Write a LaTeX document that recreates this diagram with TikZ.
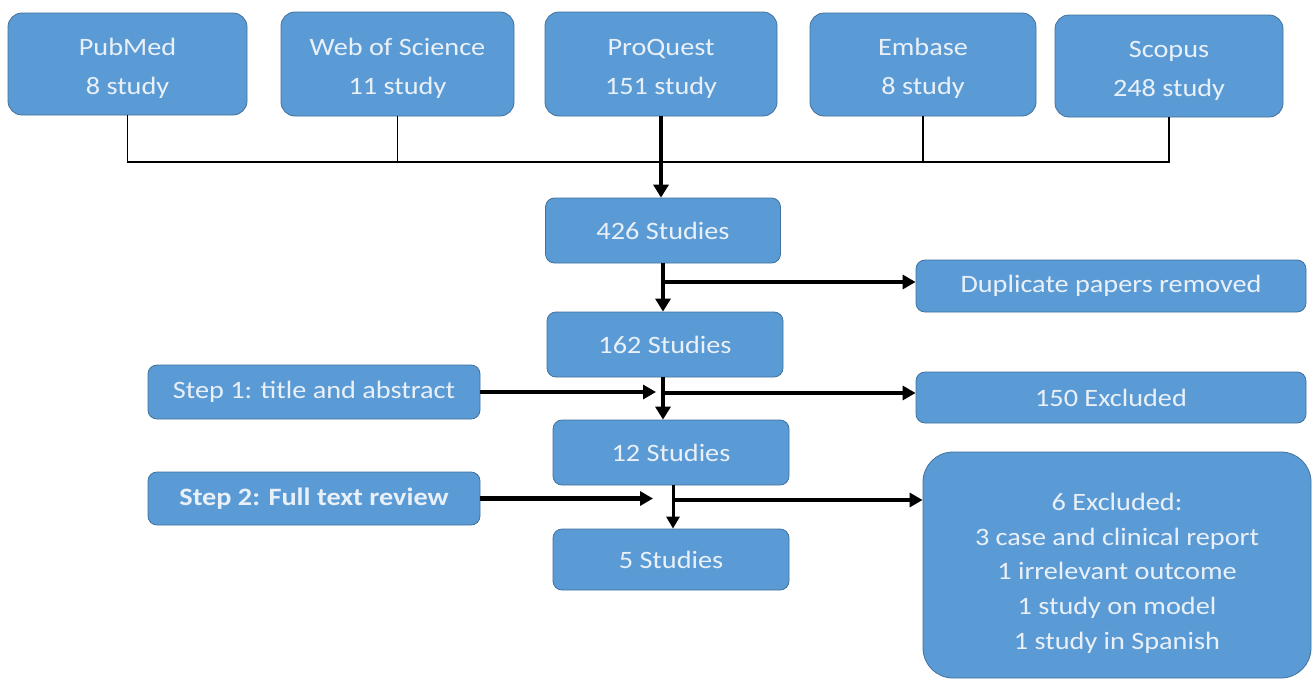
\documentclass[tikz,border=0pt]{standalone}
\usepackage{fontspec}
\setmainfont{Carlito}[FakeStretch=1.13]
\usetikzlibrary{arrows.meta}
\definecolor{boxblue}{HTML}{5B9BD5}
\definecolor{boxline}{HTML}{41719C}
\definecolor{boxtext}{HTML}{EAF0F8}
\newcommand{\shiftlines}[2]{\raisebox{#1}[\height][\depth]{\begin{tabular}{@{}c@{}}#2\end{tabular}}}
\begin{document}
\begin{tikzpicture}[x=1pt,y=-1pt,
  box/.style={draw=boxline, line width=0.8pt, fill=boxblue, text=boxtext, align=center, inner sep=0pt, font=\fontsize{25}{39}\selectfont},
  topbox/.style={box, rounded corners=14pt},
  midbox/.style={box, rounded corners=9pt},
  bigbox/.style={box, rounded corners=30pt, font=\fontsize{25}{34.6}\selectfont},
  bus/.style={line width=1.4pt, black},
  flow/.style={line width=3.2pt, black, -{Triangle[length=13pt,width=14pt]}},
  vflow/.style={line width=4.5pt, black, -{Triangle[length=13pt,width=15pt]}},
  flowthin/.style={line width=3pt, black, -{Triangle[length=12pt,width=13pt]}},
]
\useasboundingbox (0,0) rectangle (1314,680);
\fill[white] (0,0) rectangle (1314,680);

% top row
\node[topbox, minimum width=239pt, minimum height=102pt] (pubmed) at (127.5,64) {\shiftlines{-3pt}{PubMed\\8 study}};
\node[topbox, minimum width=233pt, minimum height=104pt] (wos) at (397.5,64) {\shiftlines{-3pt}{Web of Science\\11 study}};
\node[topbox, minimum width=232pt, minimum height=104pt] (proquest) at (661,64) {\shiftlines{-3pt}{ProQuest\\151 study}};
\node[topbox, minimum width=226pt, minimum height=103pt] (embase) at (923,64.5) {\shiftlines{-3pt}{Embase\\8 study}};
\node[topbox, minimum width=228pt, minimum height=102pt] (scopus) at (1169,66) {\shiftlines{-3pt}{Scopus\\248 study}};

% main column
\node[midbox, minimum width=235pt, minimum height=65pt] (s426) at (663,230.5) {426 Studies};
\node[midbox, minimum width=236pt, minimum height=65pt] (s162) at (665,344.5) {162 Studies};
\node[midbox, minimum width=236pt, minimum height=65pt] (s12) at (671,452.5) {12 Studies};
\node[midbox, minimum width=236pt, minimum height=61pt] (s5) at (671,559.5) {5 Studies};

% side boxes
\node[midbox, minimum width=390pt, minimum height=52pt] (dup) at (1111,286) {Duplicate papers removed};
\node[midbox, minimum width=390pt, minimum height=51pt] (excl150) at (1111,397.5) {150 Excluded};
\node[midbox, minimum width=332pt, minimum height=54pt] (step1) at (314,392) {Step 1: title and abstract};
\node[midbox, minimum width=332pt, minimum height=53pt] (step2) at (314,498.5) {\textbf{Step 2: Full text review}};
\node[bigbox, minimum width=388pt, minimum height=226pt] (big) at (1117,565) {\shiftlines{-8pt}{6 Excluded:\\3 case and clinical report\\1 irrelevant outcome\\1 study on model\\1 study in Spanish}};

% connectors
\coordinate (busmid) at (661,162);
\draw[bus] (pubmed.south) |- (busmid) -| (scopus.south);
\draw[bus] (wos.south) -- (wos.south |- busmid);
\draw[bus] (embase.south) -- (embase.south |- busmid);
\draw[vflow] (proquest.south) -- (proquest.south |- s426.north);

\draw[vflow] (s426.south) -- (s426.south |- s162.north);
\coordinate (j1) at (663,282);
\draw[flow] (j1) -- (j1 -| dup.west);

\draw[vflow] (s426.south |- s162.south) -- (s426.south |- s12.north);
\coordinate (j2) at (663,393);
\draw[flow] (j2) -- (j2 -| excl150.west);
\draw[flow, line width=4pt, shorten >=7pt] (step1.east) -- (step1.east -| j2);

\draw[flowthin] (s12.south) ++(2,0) coordinate (v3) -- (v3 |- s5.north);
\coordinate (j3) at (673,500);
\draw[flow] (j3) -- (j3 -| big.west);
\draw[flow, line width=4.5pt, shorten >=20pt] (step2.east) -- (step2.east -| j3);
\end{tikzpicture}
\end{document}
